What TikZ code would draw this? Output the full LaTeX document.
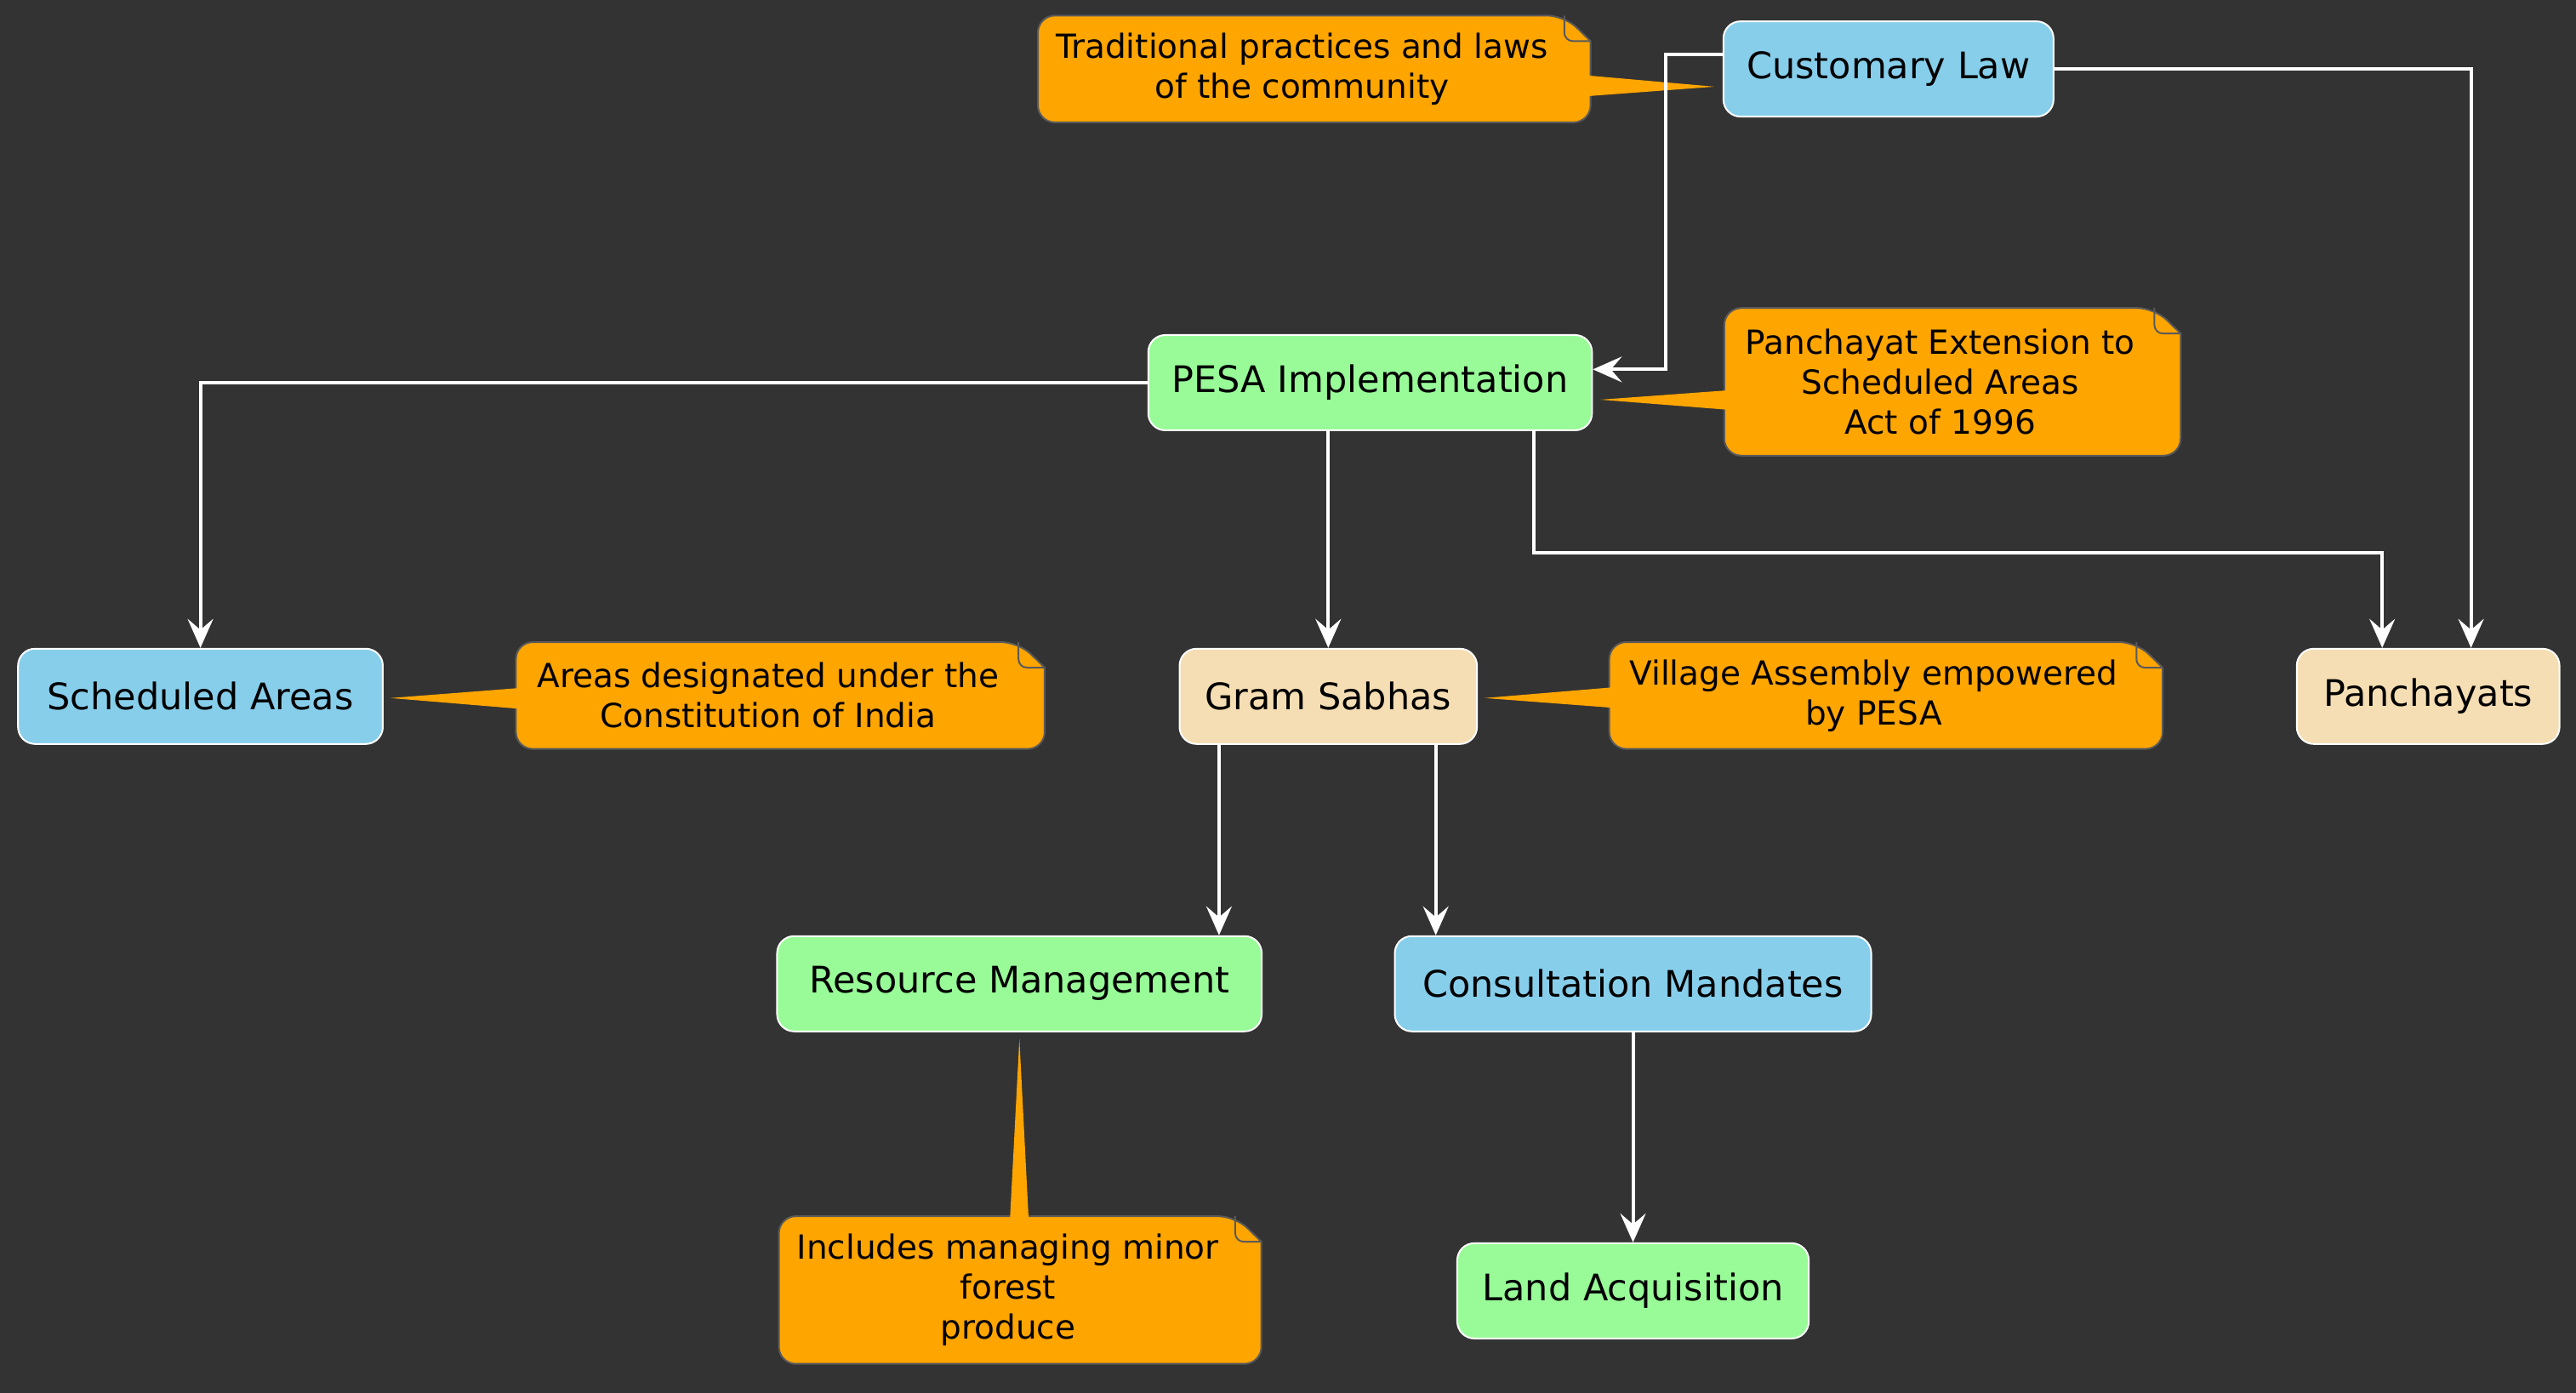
\documentclass[tikz,border=0pt]{standalone}
\usepackage{fontspec}
\setmainfont{DejaVu Sans}
\usetikzlibrary{arrows.meta,backgrounds}
\definecolor{bgdark}{HTML}{333333}
\definecolor{skyb}{HTML}{87CEEB}
\definecolor{paleg}{HTML}{98FB98}
\definecolor{wheatc}{HTML}{F5DEB3}
\definecolor{notec}{HTML}{FFA500}
\definecolor{notee}{HTML}{5A5A5A}
\newcommand\notebody[1]{%
  \path[notefill]([xshift=-.5pt]#1.north east)--([xshift=7.2pt,yshift=-7.5pt]#1.north east)[rounded corners=5pt]--([xshift=7.2pt]#1.south east)--(#1.south west)--(#1.north west)--cycle;%
  \draw[foldline,rounded corners=2.5pt]([xshift=-.5pt]#1.north east)|-([xshift=7.2pt,yshift=-7.5pt]#1.north east);}
\begin{document}
\begin{tikzpicture}[x=.4828pt,y=-.4828pt,
    box/.style={draw=white,line width=.5pt,rounded corners=5pt,minimum height=28pt,inner xsep=6pt,font=\fontsize{10.75}{12.9}\selectfont},
    notebox/.style={inner xsep=4.4pt,minimum height=31pt,align=center,font=\fontsize{9.75}{11.8}\selectfont},
    flow/.style={draw=white,line width=1pt,-{Stealth[length=8.5pt,width=7.5pt,inset=3.2pt]}},
    notefill/.style={fill=notec,draw=notee,line width=.5pt},
    foldline/.style={draw=notee,line width=.5pt}]
  \useasboundingbox(0,0)rectangle(1568,848);
  \node[box,fill=skyb,minimum width=97pt](cust)at(1149.5,42){Customary Law};
  \node[box,fill=paleg,minimum width=130.4pt](pesa)at(834,233){PESA Implementation};
  \node[box,fill=skyb,minimum width=107.2pt](sched)at(122,424){Scheduled Areas};
  \node[box,fill=wheatc,minimum width=87.4pt](gram)at(808.5,424){Gram Sabhas};
  \node[box,fill=wheatc,minimum width=77.2pt](panch)at(1478,424){Panchayats};
  \node[box,fill=paleg,minimum width=142.4pt](res)at(620.5,599){Resource Management};
  \node[box,fill=skyb,minimum width=140pt](cons)at(994,599){Consultation Mandates};
  \node[box,fill=paleg,minimum width=103.3pt](land)at(994,786){Land Acquisition};
  \node[notebox,minimum width=154.8pt](n1)at(792.5,42){Traditional practices and laws\\of the community};
  \node[notebox,minimum width=126.5pt,minimum height=43pt](n2)at(1181,232.5){Panchayat Extension to\\Scheduled Areas\\Act of 1996};
  \node[notebox,minimum width=147.8pt](n3)at(467.5,423.5){Areas designated under the\\Constitution of India};
  \node[notebox,minimum width=155pt](n4)at(1140.5,423.5){Village Assembly empowered\\by PESA};
  \node[notebox,minimum width=134.2pt,minimum height=43pt](n5)at(613.5,785.5){Includes managing minor\\forest\\produce};
  \draw[flow]([yshift=4.3pt]cust.west)--++(-34.5,0)|-([yshift=3.9pt]pesa.east);
  \draw[flow](cust.east)-|([xshift=12.6pt]panch.north);
  \draw[flow](pesa.west)-|(sched.north);
  \draw[flow](pesa.south-|gram.north)--(gram.north);
  \draw[flow]([xshift=48.1pt]pesa.south)--++(0,74)-|([xshift=-13.5pt]panch.north);
  \draw[flow]([xshift=-32.1pt]gram.south)--([xshift=-32.1pt]gram.south|-res.north);
  \draw[flow]([xshift=31.6pt]gram.south)--([xshift=31.6pt]gram.south|-cons.north);
  \draw[flow](cons.south)--(land.north);
  \begin{scope}[on background layer]
    \fill[bgdark](0,0)rectangle(1568,848);
    \foreach\n in {n1,n2,n3,n4,n5}{\notebody{\n}}
    \fill[notec]([xshift=-2.4pt,yshift=-5.2pt]cust.west)--([xshift=6.2pt,yshift=-1.9pt]n1.east)--([xshift=6.2pt,yshift=-8pt]n1.east)--cycle;
    \fill[notec]([xshift=2.2pt,yshift=-5pt]pesa.east)--([xshift=1pt,yshift=-2.5pt]n2.west)--([xshift=1pt,yshift=-8.2pt]n2.west)--cycle;
    \fill[notec]([xshift=2pt,yshift=-.5pt]sched.east)--([xshift=1pt,yshift=2.2pt]n3.west)--([xshift=1pt,yshift=-3.9pt]n3.west)--cycle;
    \fill[notec]([xshift=2pt,yshift=-.5pt]gram.east)--([xshift=1pt,yshift=2.4pt]n4.west)--([xshift=1pt,yshift=-3.6pt]n4.west)--cycle;
    \fill[notec]([yshift=-2pt]res.south)--([xshift=0.6pt,yshift=-1pt]n5.north)--([xshift=6.1pt,yshift=-1pt]n5.north)--cycle;
  \end{scope}
\end{tikzpicture}
\end{document}
